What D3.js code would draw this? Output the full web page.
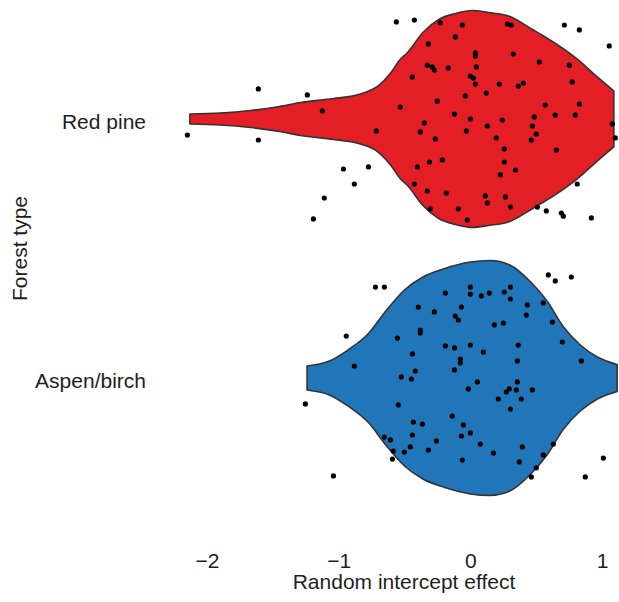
<!DOCTYPE html>
<html>
<head>
<meta charset="utf-8">
<script src="https://cdn.jsdelivr.net/npm/d3@7"></script>
<style>
	body { margin: 0; background: #fff; }
	text { font-family: "Liberation Sans", Arial, sans-serif; fill: #1e1e1e; }
</style>
</head>
<body>
<script>
	var width = 619, height = 602;

	var forestTypes = ['Red pine', 'Aspen/birch'];
	var xTicks = [-2, -1, 0, 1];
	var fills = ['#e31e25', '#2176b9'];

	// violin outline: [random intercept effect, relative density]
	var redPineDensity = [
		[-2.13, 0.043], [-1.90, 0.051], [-1.67, 0.072], [-1.45, 0.106], [-1.29, 0.140],
		[-1.04, 0.174], [-0.835, 0.213], [-0.70, 0.281], [-0.60, 0.400], [-0.53, 0.511],
		[-0.48, 0.562], [-0.36, 0.736], [-0.24, 0.847], [-0.11, 0.898], [0.015, 0.923],
		[0.14, 0.906], [0.29, 0.877], [0.48, 0.757], [0.55, 0.711], [0.81, 0.511],
		[0.96, 0.362], [1.09, 0.238]
	];
	var aspenDensity = [
		[-1.24, 0.102], [-1.08, 0.140], [-0.93, 0.238], [-0.77, 0.383], [-0.645, 0.566],
		[-0.50, 0.749], [-0.36, 0.860], [-0.205, 0.928], [0, 0.987], [0.15, 1.000],
		[0.30, 0.962], [0.455, 0.821], [0.585, 0.651], [0.705, 0.438], [0.835, 0.281],
		[0.965, 0.179], [1.115, 0.115]
	];

	// points: [random intercept effect, vertical jitter (share of one category step)]
	var redPinePoints = [
		[-1.610, -0.116], [-1.238, -0.093], [-2.149, 0.062], [-1.610, 0.081], [-1.192, 0.386],
		[-0.562, -0.375], [-1.124, -0.031], [-0.532, -0.046], [-0.714, 0.046], [-0.964, 0.193],
		[-0.774, 0.185], [-0.881, 0.251], [-1.109, 0.305], [-0.425, -0.382], [-0.228, -0.371],
		[-0.061, -0.363], [-0.114, -0.317], [-0.319, -0.290], [0.038, -0.255], [0.038, -0.243],
		[-0.327, -0.208], [-0.289, -0.201], [-0.273, -0.189], [-0.167, -0.197], [0.046, -0.201],
		[-0.440, -0.162], [0.000, -0.166], [0.023, -0.158], [0.038, -0.135], [0.220, -0.135],
		[0.121, -0.100], [-0.038, -0.089], [-0.251, -0.069], [-0.121, -0.019], [0.000, 0.000],
		[0.243, 0.004], [-0.349, 0.015], [-0.380, 0.050], [-0.030, 0.046], [0.129, 0.027],
		[-0.266, 0.077], [0.197, 0.073], [0.258, 0.116], [-0.213, 0.158], [-0.311, 0.166],
		[-0.402, 0.185], [0.258, 0.166], [0.228, 0.216], [-0.425, 0.251], [-0.327, 0.278],
		[-0.182, 0.286], [0.114, 0.297], [0.129, 0.324], [0.266, 0.301], [-0.304, 0.347],
		[-0.091, 0.347], [-0.023, 0.390], [0.281, -0.367], [0.311, -0.363], [0.326, -0.251],
		[0.714, -0.363], [0.828, -0.344], [1.055, -0.282], [0.524, -0.220], [0.752, -0.208],
		[0.402, -0.139], [0.364, -0.127], [0.774, -0.143], [0.569, -0.054], [0.828, -0.058],
		[0.645, -0.015], [0.797, -0.015], [0.486, -0.008], [0.471, 0.027], [0.501, 0.058],
		[0.463, 0.081], [1.078, 0.019], [1.101, 0.073], [0.653, 0.120], [0.342, 0.197],
		[0.812, 0.251], [0.304, 0.340], [0.509, 0.340], [0.577, 0.355], [0.691, 0.363],
		[0.706, 0.375], [0.919, 0.382]
	];
	var aspenPoints = [
		[-0.721, -0.351], [-0.653, -0.351], [-0.942, -0.162], [-0.554, -0.154], [-0.881, -0.046],
		[-0.524, -0.004], [-1.253, 0.100], [-0.547, 0.104], [-0.653, 0.228], [-0.607, 0.239],
		[-0.585, 0.282], [-0.592, 0.313], [-0.501, 0.286], [-1.040, 0.378], [0.000, -0.351],
		[0.000, -0.324], [-0.190, -0.328], [0.084, -0.317], [0.144, -0.328], [0.258, -0.332],
		[0.304, -0.351], [0.304, -0.305], [-0.395, -0.274], [-0.273, -0.255], [-0.068, -0.274],
		[-0.114, -0.239], [-0.091, -0.224], [0.182, -0.205], [0.251, -0.212], [-0.380, -0.185],
		[-0.380, -0.174], [-0.190, -0.124], [-0.121, -0.116], [0.000, -0.127], [0.099, -0.100],
		[-0.440, -0.093], [-0.076, -0.073], [-0.076, -0.058], [-0.121, -0.031], [-0.418, -0.027],
		[-0.448, 0.004], [0.053, 0.015], [-0.015, 0.042], [0.296, 0.042], [0.273, 0.054],
		[0.213, 0.081], [0.304, 0.120], [-0.137, 0.147], [-0.433, 0.170], [-0.364, 0.178],
		[-0.053, 0.181], [-0.440, 0.220], [-0.068, 0.224], [0.000, 0.212], [-0.258, 0.243],
		[-0.456, 0.266], [-0.319, 0.278], [0.076, 0.255], [0.175, 0.290], [-0.061, 0.317],
		[0.592, -0.398], [0.645, -0.375], [0.767, -0.390], [0.433, -0.282], [0.425, -0.243],
		[0.554, -0.290], [0.623, -0.216], [0.364, -0.127], [0.699, -0.139], [0.357, -0.066],
		[0.843, -0.066], [0.357, 0.015], [0.349, 0.046], [0.471, 0.046], [0.387, 0.081],
		[0.395, 0.266], [0.372, 0.324], [0.630, 0.255], [0.554, 0.297], [0.501, 0.347],
		[0.463, 0.382], [1.010, 0.309], [0.873, 0.382]
	];

	var densities = [redPineDensity, aspenDensity];
	var points = [redPinePoints, aspenPoints];

	var svg = d3.select('body').append('svg')
		.attr('width', width)
		.attr('height', height);

	var x = d3.scaleLinear().domain([-2, 1]).range([207, 602]);
	var y = d3.scalePoint().domain(forestTypes).range([119, 378]);
	var w = d3.scaleLinear().domain([0, 1]).range([0, 0.4537 * y.step()]);

	forestTypes.forEach(function (type, i) {
		var cy = y(type);
		var area = d3.area()
			.curve(d3.curveMonotoneX)
			.x(function (d) { return x(d[0]); })
			.y0(function (d) { return cy - w(d[1]); })
			.y1(function (d) { return cy + w(d[1]); });

		svg.append('path')
			.datum(densities[i])
			.attr('d', area)
			.attr('fill', fills[i])
			.attr('stroke', '#333')
			.attr('stroke-width', 1.6)
			.attr('stroke-linejoin', 'round');

		svg.append('g').selectAll('circle')
			.data(points[i])
			.enter().append('circle')
			.attr('cx', function (d) { return x(d[0]); })
			.attr('cy', function (d) { return cy + d[1] * y.step(); })
			.attr('r', 2.6)
			.attr('fill', '#000');
	});

	// axes
	var xAxis = svg.append('g')
		.attr('transform', 'translate(0,545)')
		.call(d3.axisBottom(x).tickValues(xTicks).tickFormat(d3.format('d')).tickSize(0).tickPadding(8));
	xAxis.select('.domain').remove();
	xAxis.selectAll('text').style('font-size', '21px').attr('fill', '#1e1e1e');
	xAxis.attr('font-family', null);

	var yAxis = svg.append('g')
		.attr('transform', 'translate(146,0)')
		.call(d3.axisLeft(y).tickSize(0).tickPadding(0));
	yAxis.select('.domain').remove();
	yAxis.selectAll('text').style('font-size', '21px').attr('dy', '0.43em').attr('fill', '#1e1e1e');
	yAxis.attr('font-family', null);

	svg.append('text')
		.attr('x', 404)
		.attr('y', 589)
		.attr('text-anchor', 'middle')
		.style('font-size', '21px')
		.text('Random intercept effect');

	svg.append('text')
		.attr('transform', 'translate(27,248.5) rotate(-90)')
		.attr('text-anchor', 'middle')
		.style('font-size', '21px')
		.text('Forest type');
</script>
</body>
</html>
